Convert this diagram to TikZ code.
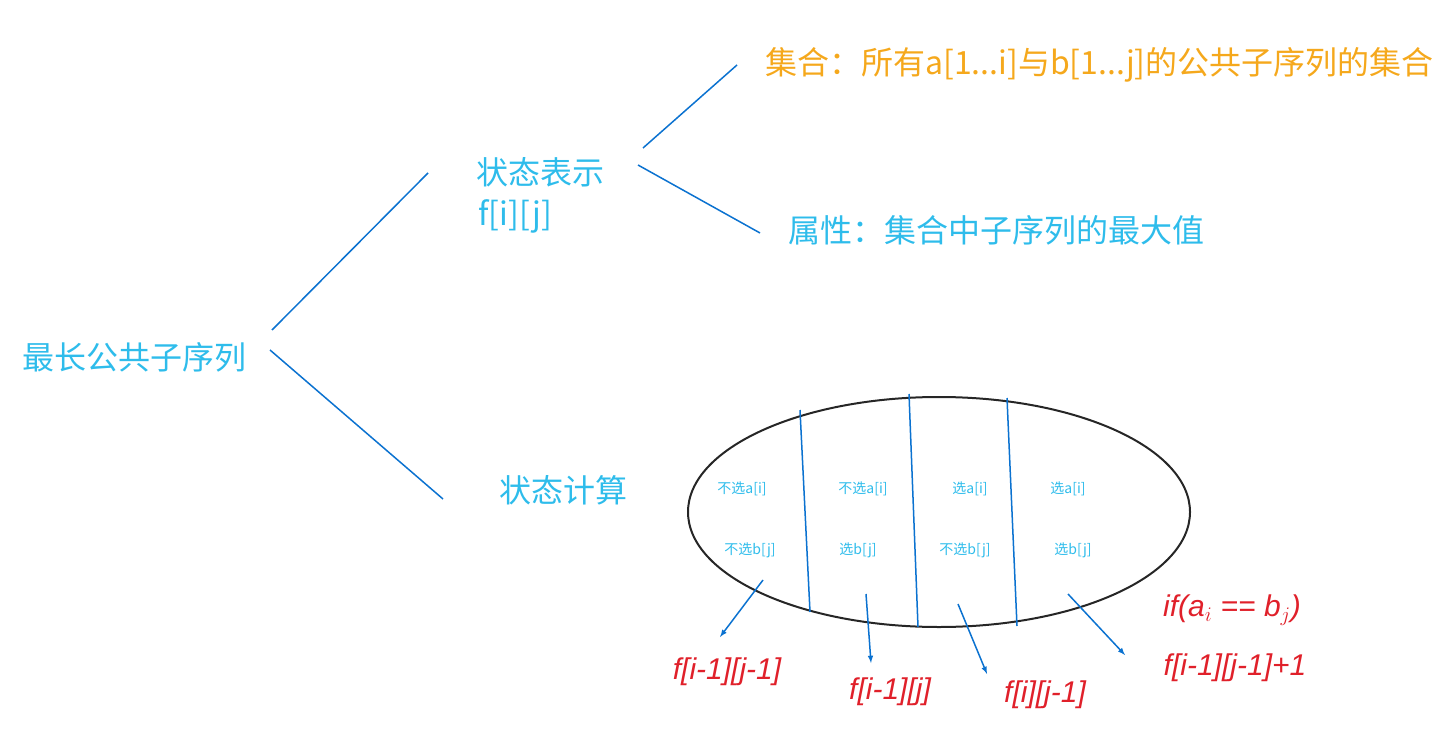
\documentclass[tikz,border=0pt]{standalone}
\usepackage{fontspec}
\setmainfont{Noto Sans CJK SC}
\newfontfamily\handfont{Liberation Sans}
\usetikzlibrary{positioning}
\definecolor{txtblue}{HTML}{2EBCEB}
\definecolor{lineblue}{HTML}{0B72D0}
\definecolor{setorange}{HTML}{F5A81C}
\definecolor{handred}{HTML}{E0202A}

\begin{document}
\begin{tikzpicture}[x=1pt, y=-1pt,
    bigtext/.style={text=txtblue, font=\fontsize{32}{36}\selectfont, inner sep=0pt},
    celltext/.style={text=txtblue, font=\fontsize{14}{16}\selectfont, inner sep=0pt},
    redtext/.style={text=handred, font=\handfont\itshape\fontsize{30}{34}\selectfont, inner sep=0pt},
    branch/.style={lineblue, line width=1.5pt},
    pick/.style={lineblue, line width=1.5pt, -latex}]
    \useasboundingbox (0,0) rectangle (1440,749);

    % Tree
    \node[bigtext] (lcs) at (135,357) {最长公共子序列};
    \node[bigtext] (rep) at (540,172) {状态表示};
    \node[bigtext, anchor=west] (fij) at (478,216) {f[i][j]};
    \node[bigtext, text=setorange, anchor=west] (set) at (765,65) {集合：所有a[1...i]与b[1...j]的公共子序列的集合};
    \node[bigtext, anchor=west] (attr) at (788,230) {属性：集合中子序列的最大值};
    \node[bigtext] (calc) at (563,490) {状态计算};

    \coordinate (r1) at (272,330); \coordinate (r2) at (428,173);
    \coordinate (r3) at (270,350); \coordinate (r4) at (443,499);
    \coordinate (s1) at (643,148); \coordinate (s2) at (737,65);
    \coordinate (s3) at (638,165); \coordinate (s4) at (760,233);
    \draw[branch] (r1) -- (r2);
    \draw[branch] (r3) -- (r4);
    \draw[branch] (s1) -- (s2);
    \draw[branch] (s3) -- (s4);

    % Set split
    \draw[black!85, line width=2pt] (939,512) ellipse [x radius=251, y radius=115];
    \draw[branch] (800,410) -- (810,612);
    \draw[branch] (909,394) -- (918,627);
    \draw[branch] (1007,398) -- (1017,626);

    \node[celltext] (c1a) at (742,489) {不选a[i]};
    \node[celltext] (c2a) at (863,489) {不选a[i]};
    \node[celltext] (c3a) at (970,489) {选a[i]};
    \node[celltext] (c4a) at (1068,489) {选a[i]};
    \node[celltext] (c1b) at (750,550) {不选b[j]};
    \node[celltext] (c2b) at (858,550) {选b[j]};
    \node[celltext] (c3b) at (965,550) {不选b[j]};
    \node[celltext] (c4b) at (1073,550) {选b[j]};

    % Results
    \node[redtext] (f1) at (727,672) {f[i-1][j-1]};
    \node[redtext] (f2) at (890,692) {f[i-1][j]};
    \node[redtext] (f3) at (1045,695) {f[i][j-1]};
    \node[redtext] (cond) at (1232,610) {if(a$_i$ == b$_j$)};
    \node[redtext] (f4) at (1235,668) {f[i-1][j-1]+1};

    \coordinate (a1) at (763,580); \coordinate (b1) at (720,637);
    \coordinate (a2) at (866,594); \coordinate (b2) at (871,663);
    \coordinate (a3) at (958,604); \coordinate (b3) at (987,674);
    \coordinate (a4) at (1068,594); \coordinate (b4) at (1125,655);
    \draw[pick] (a1) -- (b1);
    \draw[pick] (a2) -- (b2);
    \draw[pick] (a3) -- (b3);
    \draw[pick] (a4) -- (b4);
\end{tikzpicture}
\end{document}
